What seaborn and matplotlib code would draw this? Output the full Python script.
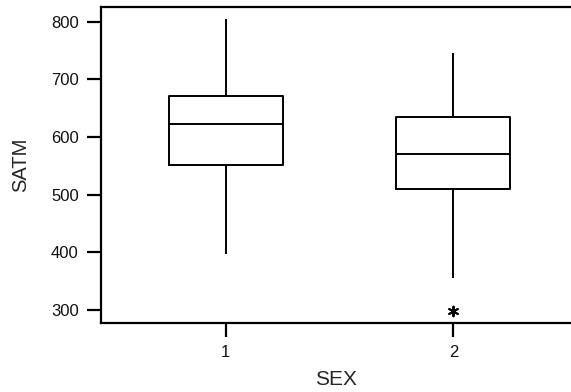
import matplotlib
matplotlib.use("Agg")
import matplotlib.pyplot as plt
import numpy as np
import pandas as pd
import seaborn as sns

# Five-number summaries (lower whisker, Q1, median, Q3, upper whisker) per group
sex_groups = ["1", "2"]
satm_group1 = [397, 551, 623, 671, 805]
satm_group2 = [355, 509, 571, 634, 745]
# Points beyond the whiskers
outlier_sex = ["2"]
outlier_satm = [297]

y_ticks = [300, 400, 500, 600, 700, 800]

sns.set_theme(style="ticks")
plt.rcParams["font.family"] = ["Liberation Sans", "DejaVu Sans"]

box_df = pd.DataFrame({
    "SEX": [sex_groups[0]] * len(satm_group1) + [sex_groups[1]] * len(satm_group2),
    "SATM": satm_group1 + satm_group2,
})
out_df = pd.DataFrame({"SEX": outlier_sex, "SATM": outlier_satm})

fig = plt.figure(figsize=(5.71, 3.92), dpi=100)
ax = fig.add_axes([101 / 571, 1 - 323 / 392, 1 - 101 / 571, (323 - 7) / 392])

line_kw = dict(color="black", linewidth=1.4)
sns.boxplot(
    data=box_df, x="SEX", y="SATM", order=sex_groups, ax=ax,
    width=0.5, whis=np.inf, fill=False, color="black",
    boxprops=line_kw, medianprops=line_kw, whiskerprops=line_kw,
    capprops=dict(linewidth=0), showcaps=False,
)
sns.stripplot(
    data=out_df, x="SEX", y="SATM", order=sex_groups, ax=ax,
    jitter=False, marker=(6, 2, 0), size=7, color="black", linewidth=1.4,
    edgecolor="black",
)

ax.set_xlim(-0.548, 1.517)
ax.set_ylim(277, 825.5)
ax.set_yticks(y_ticks)
ax.set_yticklabels([str(t) for t in y_ticks])

for side in ["left", "bottom", "top"]:
    ax.spines[side].set_linewidth(1.6)
    ax.spines[side].set_color("black")
ax.spines["right"].set_visible(False)

ax.tick_params(axis="both", direction="out", length=10, width=1.6,
               color="black", labelsize=12, labelcolor="#111111", pad=6)
ax.set_xlabel("SEX", fontsize=15, labelpad=7)
ax.set_ylabel("SATM", fontsize=14.5, labelpad=15)

fig.savefig("out.png", dpi=100)
